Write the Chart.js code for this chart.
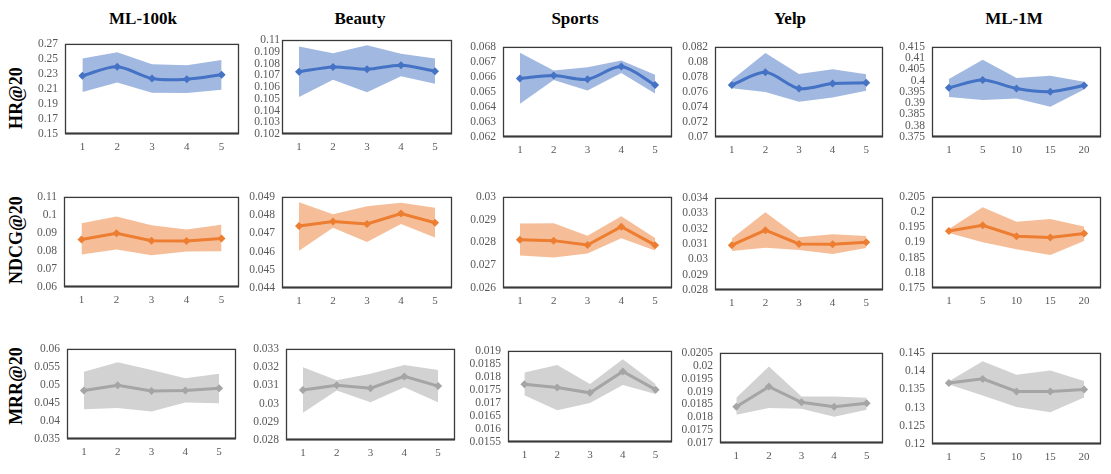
<!DOCTYPE html>
<html>
<head>
<meta charset="utf-8">
<script src="https://cdn.jsdelivr.net/npm/chart.js@4"></script>
<style>
  html, body { margin: 0; padding: 0; background: #fff; }
  #wrap { position: relative; width: 1111px; height: 474px; overflow: hidden; background: #fff; }
  canvas { position: absolute; }
  .title { position: absolute; font-family: "Liberation Serif", serif; font-weight: bold; font-size: 17px; color: #000; transform: translateX(-50%); white-space: nowrap; }
  .rowlab { position: absolute; font-family: "Liberation Serif", serif; font-weight: bold; font-size: 18px; color: #000; white-space: nowrap; transform: translate(-50%, -50%) rotate(-90deg); }
</style>
</head>
<body>
<div id="wrap"></div>
<script>
// ---------- data ----------
const categories = ['1', '2', '3', '4', '5'];
const categoriesML1M = ['1', '5', '10', '15', '20'];
const datasetNames = ['ML-100k', 'Beauty', 'Sports', 'Yelp', 'ML-1M'];
const metricNames = ['HR@20', 'NDCG@20', 'MRR@20'];

const hrMean = [
  [0.2276, 0.2395, 0.2238, 0.2229, 0.2289],
  [0.10729, 0.10771, 0.10751, 0.10785, 0.10734],
  [0.0659, 0.06609, 0.06584, 0.06669, 0.06546],
  [0.07692, 0.07861, 0.07645, 0.07713, 0.07721],
  [0.39686, 0.4003, 0.39657, 0.39514, 0.39786]
];
const hrHigh = [
  [0.2505, 0.259, 0.2429, 0.2416, 0.2484],
  [0.10944, 0.10887, 0.10955, 0.10884, 0.10842],
  [0.06762, 0.06643, 0.06664, 0.06709, 0.06614],
  [0.0776, 0.0812, 0.0784, 0.07903, 0.07836],
  [0.40071, 0.40929, 0.40114, 0.40214, 0.39957]
];
const hrLow = [
  [0.206, 0.2187, 0.2051, 0.2047, 0.209],
  [0.10514, 0.10661, 0.10556, 0.10692, 0.10627],
  [0.06421, 0.0658, 0.0651, 0.06626, 0.06489],
  [0.0765, 0.07598, 0.07471, 0.07527, 0.07615],
  [0.39271, 0.39143, 0.39214, 0.38843, 0.39614]
];

const ndcgMean = [
  [0.0864, 0.0898, 0.0857, 0.0855, 0.0869],
  [0.0474, 0.04765, 0.04751, 0.04809, 0.04758],
  [0.02812, 0.02808, 0.02789, 0.02869, 0.02788],
  [0.03092, 0.0319, 0.031, 0.03098, 0.03111],
  [0.19376, 0.19567, 0.19207, 0.19164, 0.19292]
];
const ndcgHigh = [
  [0.0954, 0.0991, 0.0942, 0.0919, 0.0945],
  [0.0487, 0.04805, 0.04849, 0.04868, 0.0484],
  [0.02883, 0.02884, 0.02829, 0.02915, 0.02819],
  [0.03136, 0.03306, 0.03144, 0.03163, 0.03152],
  [0.1944, 0.2016, 0.19684, 0.1977, 0.19525]
];
const ndcgLow = [
  [0.0781, 0.0808, 0.0776, 0.0797, 0.0799],
  [0.04605, 0.0473, 0.04653, 0.04751, 0.04677],
  [0.02743, 0.02734, 0.02751, 0.02818, 0.02765],
  [0.03054, 0.03075, 0.0306, 0.03035, 0.03073],
  [0.19313, 0.19005, 0.18772, 0.1859, 0.19048]
];

const mrrMean = [
  [0.04843, 0.04993, 0.04834, 0.04843, 0.04905],
  [0.03075, 0.031, 0.03084, 0.03149, 0.03096],
  [0.01772, 0.01759, 0.01739, 0.01821, 0.01751],
  [0.01841, 0.01919, 0.01858, 0.01841, 0.01854],
  [0.13673, 0.13787, 0.13444, 0.13444, 0.13497]
];
const mrrHigh = [
  [0.05364, 0.05629, 0.05417, 0.05187, 0.05311],
  [0.032, 0.03128, 0.03163, 0.03211, 0.03184],
  [0.01817, 0.01846, 0.01773, 0.01868, 0.01773],
  [0.01876, 0.01997, 0.01881, 0.01881, 0.01876],
  [0.13717, 0.14271, 0.13901, 0.14016, 0.13725]
];
const mrrLow = [
  [0.04322, 0.04357, 0.0426, 0.04516, 0.0449],
  [0.02949, 0.03072, 0.03007, 0.0309, 0.03007],
  [0.0173, 0.01672, 0.017, 0.01769, 0.01734],
  [0.0181, 0.01836, 0.01833, 0.01802, 0.01829],
  [0.13637, 0.13329, 0.13012, 0.12871, 0.13276]
];

// y-axis tick ranges (min, max, step) per metric row
const hrTicksMin = [0.15, 0.102, 0.062, 0.07, 0.375];
const hrTicksMax = [0.27, 0.11, 0.068, 0.082, 0.415];
const hrTicksStep = [0.02, 0.001, 0.001, 0.002, 0.005];
const ndcgTicksMin = [0.06, 0.044, 0.026, 0.028, 0.175];
const ndcgTicksMax = [0.11, 0.049, 0.03, 0.034, 0.205];
const ndcgTicksStep = [0.01, 0.001, 0.001, 0.001, 0.005];
const mrrTicksMin = [0.035, 0.028, 0.0155, 0.017, 0.12];
const mrrTicksMax = [0.06, 0.033, 0.019, 0.0205, 0.145];
const mrrTicksStep = [0.005, 0.001, 0.0005, 0.0005, 0.005];

// ---------- layout / style ----------
const boxes = [
  [[65, 40, 239, 134], [282, 40, 452, 134], [503, 43, 672, 137], [715, 43, 883, 137], [932, 43, 1101, 137]],
  [[64, 193, 239, 287], [282, 193, 452, 288], [503, 193, 672, 288], [715, 194, 883, 290], [932, 193, 1101, 288]],
  [[67, 345, 236, 439], [286, 345, 455, 440], [508, 347, 672, 442], [720, 349, 883, 443], [932, 349, 1101, 444]]
];
const lineColors = ['#4472C4', '#ED7D31', '#A5A5A5'];
const bandColors = ['rgba(68,114,196,0.5)', 'rgba(237,125,49,0.5)', 'rgba(165,165,165,0.5)'];
const titleX = [143, 360, 575, 790, 1014];
const rowLabelY = [98, 240, 386];

const rows = [
  { mean: hrMean, high: hrHigh, low: hrLow, mn: hrTicksMin, mx: hrTicksMax, st: hrTicksStep, tension: 0.3 },
  { mean: ndcgMean, high: ndcgHigh, low: ndcgLow, mn: ndcgTicksMin, mx: ndcgTicksMax, st: ndcgTicksStep, tension: 0 },
  { mean: mrrMean, high: mrrHigh, low: mrrLow, mn: mrrTicksMin, mx: mrrTicksMax, st: mrrTicksStep, tension: 0 }
];

const wrap = document.getElementById('wrap');

datasetNames.forEach((n, c) => {
  const d = document.createElement('div');
  d.className = 'title';
  d.textContent = n;
  d.style.left = titleX[c] + 'px';
  d.style.top = '9px';
  wrap.appendChild(d);
});
metricNames.forEach((n, r) => {
  const d = document.createElement('div');
  d.className = 'rowlab';
  d.textContent = n;
  d.style.left = '16px';
  d.style.top = rowLabelY[r] + 'px';
  wrap.appendChild(d);
});

const boxPlugin = {
  id: 'boxBorder',
  beforeDatasetsDraw(chart) {
    const a = chart.chartArea, ctx = chart.ctx;
    ctx.save();
    ctx.strokeStyle = '#3a3a3a';
    ctx.lineWidth = 1.3;
    ctx.strokeRect(a.left + 0.5, a.top + 0.5, a.right - a.left - 1, a.bottom - a.top - 1);
    ctx.restore();
  },
  afterDatasetsDraw(chart) {
    const a = chart.chartArea, ctx = chart.ctx;
    ctx.save();
    ctx.strokeStyle = '#3a3a3a';
    ctx.lineWidth = 2;
    ctx.beginPath();
    ctx.moveTo(a.left, a.bottom - 0.5);
    ctx.lineTo(a.right, a.bottom - 0.5);
    ctx.stroke();
    ctx.restore();
  }
};

const PADL = 60, PADT = 10, PADR = 10, XH = 25;

rows.forEach((row, r) => {
  datasetNames.forEach((name, c) => {
    const [L, T, R, B] = boxes[r][c];
    const cv = document.createElement('canvas');
    const w = (R - L) + PADL + PADR;
    const h = (B - T) + PADT + XH;
    cv.width = w; cv.height = h;
    cv.style.width = w + 'px'; cv.style.height = h + 'px';
    cv.style.left = (L - PADL) + 'px';
    cv.style.top = (T - PADT) + 'px';
    wrap.appendChild(cv);
    const labels = c === 4 ? categoriesML1M : categories;
    new Chart(cv, {
      type: 'line',
      data: {
        labels: labels,
        datasets: [
          {
            data: row.mean[c],
            borderColor: lineColors[r],
            backgroundColor: lineColors[r],
            borderWidth: 3,
            pointStyle: 'rectRot',
            pointRadius: 4,
            pointBorderWidth: 0,
            pointBackgroundColor: lineColors[r],
            tension: row.tension,
            fill: false
          },
          {
            data: row.high[c],
            borderWidth: 0,
            borderColor: 'rgba(0,0,0,0)',
            pointRadius: 0,
            backgroundColor: bandColors[r],
            fill: '+1',
            tension: 0
          },
          {
            data: row.low[c],
            borderWidth: 0,
            borderColor: 'rgba(0,0,0,0)',
            pointRadius: 0,
            fill: false,
            tension: 0
          }
        ]
      },
      options: {
        responsive: false,
        animation: false,
        devicePixelRatio: 1,
        layout: { padding: { left: 0, top: PADT, right: PADR, bottom: 0 } },
        plugins: { legend: { display: false }, tooltip: { enabled: false }, title: { display: false } },
        scales: {
          x: {
            offset: true,
            grid: { display: false, drawTicks: false },
            border: { display: false },
            ticks: { color: '#595959', font: { family: 'Liberation Serif', size: 11 }, padding: 7, maxRotation: 0, autoSkip: false },
            afterFit(s) { s.height = XH; }
          },
          y: {
            min: row.mn[c],
            max: row.mx[c],
            grid: { display: false, drawTicks: false },
            border: { display: false },
            ticks: {
              stepSize: row.st[c],
              color: '#595959',
              font: { family: 'Liberation Serif', size: 11.5 },
              padding: c === 1 && r === 0 ? 2 : 7,
              format: { minimumFractionDigits: 0, maximumFractionDigits: 4 },
              autoSkip: false
            },
            afterFit(s) { s.width = PADL; }
          }
        }
      },
      plugins: [boxPlugin]
    });
  });
});
</script>
</body>
</html>
